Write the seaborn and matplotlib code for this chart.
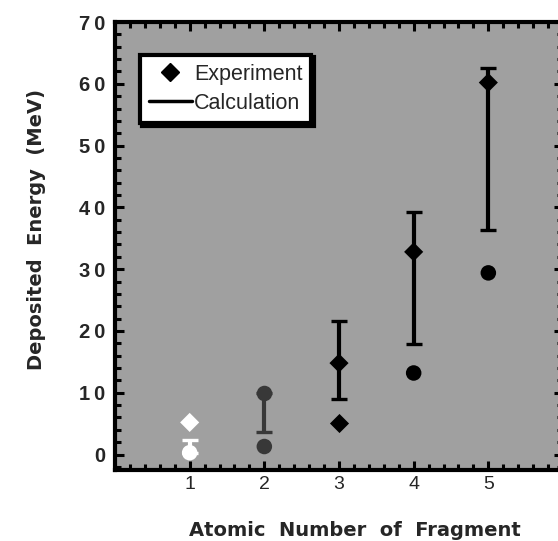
import matplotlib
matplotlib.use("Agg")
import matplotlib.pyplot as plt
import seaborn as sns
import numpy as np
import pandas as pd
from matplotlib.lines import Line2D
from matplotlib.ticker import MultipleLocator

# ---- data ----
fragment_z = [1, 2, 3, 4, 5]
exp_upper = [5.2, 10.0, 14.8, 32.8, 60.2]
exp_lower = [0.3, 1.3, 5.1, 13.2, 29.4]
calc_low = [0.3, 3.6, 9.0, 17.9, 36.3]
calc_high = [2.4, 10.0, 21.6, 39.2, 62.6]
mark_colors = ["white", "#383838", "black", "black", "black"]
upper_shape = ["D", "o", "D", "D", "D"]
lower_shape = ["o", "o", "D", "o", "o"]
x_ticks = [1, 2, 3, 4, 5]
y_ticks = [0, 10, 20, 30, 40, 50, 60, 70]

sns.set_style("ticks")
plt.rcParams["font.family"] = ["Liberation Sans", "DejaVu Sans"]

fig = plt.figure(figsize=(5.58, 5.41), dpi=100)
W, H = 558, 541
ax = fig.add_axes([115 / W, 1 - 470 / H, 448 / W, 448 / H])
ax.set_facecolor("#a0a0a0")

pal = {str(z): c for z, c in zip(fragment_z, mark_colors)}
df_up = pd.DataFrame({"Z": fragment_z, "E": exp_upper,
                      "c": [str(z) for z in fragment_z], "m": upper_shape})
df_lo = pd.DataFrame({"Z": fragment_z, "E": exp_lower,
                      "c": [str(z) for z in fragment_z], "m": lower_shape})

# calculation ranges
for z, lo, hi, col in zip(fragment_z, calc_low, calc_high, mark_colors):
    ax.errorbar([z], [lo], yerr=[[0], [hi - lo]], fmt="none", ecolor=col,
                elinewidth=3, capsize=5.5, capthick=2.4, zorder=2)

for d in (df_up, df_lo):
    for shp in ("D", "o"):
        sub = d[d["m"] == shp]
        sns.scatterplot(data=sub, x="Z", y="E", hue="c", palette=pal,
                        marker=shp, s=95 if shp == "D" else 125,
                        linewidth=0, legend=False, ax=ax, zorder=3)

ax.set_xlim(0, 6)
ax.set_ylim(-2.5, 70)
ax.set_xticks(x_ticks)
ax.set_xticklabels([str(t) for t in x_ticks], fontsize=14)
ax.set_yticks(y_ticks)
ax.set_yticklabels(["\u2009".join(str(t)) for t in y_ticks], fontsize=14.5,
                   fontweight="bold")
ax.xaxis.set_minor_locator(MultipleLocator(0.2))
ax.yaxis.set_minor_locator(MultipleLocator(2))
ax.tick_params(which="both", direction="in", top=True, right=True,
               width=2.2, color="black")
ax.tick_params(which="major", length=6.5)
ax.tick_params(which="minor", length=4)
ax.tick_params(axis="x", which="major", pad=4)
ax.tick_params(axis="y", which="major", pad=7)
ax.set_xlabel("")
ax.set_ylabel("")
for s in ax.spines.values():
    s.set_linewidth(3)
    s.set_color("black")
    s.set_visible(True)

handles = [Line2D([], [], marker="D", color="black", linestyle="none",
                  markersize=9),
           Line2D([], [], color="black", linewidth=2.5)]
leg = ax.legend(handles, ["Experiment", "Calculation"], loc="upper left",
                bbox_to_anchor=(0.055, 0.927), fontsize=15.5,
                handlelength=2.0, handletextpad=0.1, borderpad=0.42,
                labelspacing=0.38, borderaxespad=0, fancybox=False,
                framealpha=1, edgecolor="black",
                shadow={"color": "black", "alpha": 1})
leg.get_frame().set_linewidth(3)
leg.get_frame().set_facecolor("white")

lab_font = dict(fontsize=14, fontweight="bold", family=["DejaVu Sans"])
fig.text(355 / W, 1 - 530 / H, "Atomic  Number  of  Fragment", ha="center",
         va="center", **lab_font)
fig.text(37 / W, 1 - 230 / H, "Deposited  Energy  (MeV)", ha="center",
         va="center", rotation=90, **lab_font)

fig.savefig("out.png", dpi=100, facecolor="white")
